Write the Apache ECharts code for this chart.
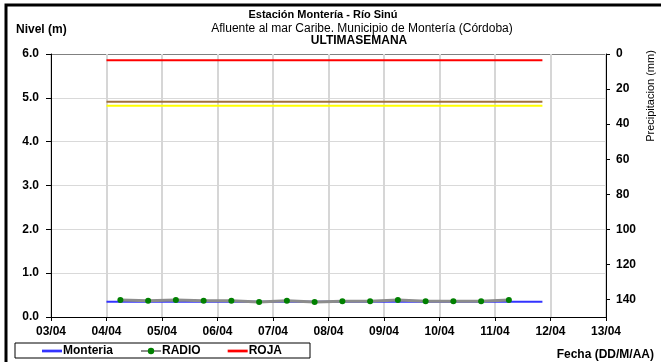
<!DOCTYPE html>
<html>
<head>
<meta charset="utf-8">
<script src="https://cdn.jsdelivr.net/npm/echarts@6/dist/echarts.min.js"></script>
<style>
html,body{margin:0;padding:0;background:#fff;}
#chart{width:661px;height:362px;}
</style>
</head>
<body>
<div id="chart"></div>
<script>
// ---- data ----
const YEAR = 2024;
const xTickRange = ['03/04 00:00', '13/04 00:00'];
const monteriaTimes = ['04/04 00:00', '11/04 20:30'];
const monteriaValues = [0.35, 0.35];
const radioTimes = ['04/04 06:00','04/04 18:00','05/04 06:00','05/04 18:00','06/04 06:00','06/04 18:00','07/04 06:00','07/04 18:00','08/04 06:00','08/04 18:00','09/04 06:00','09/04 18:00','10/04 06:00','10/04 18:00','11/04 06:00'];
const radioValues = [0.39,0.37,0.39,0.37,0.37,0.34,0.37,0.34,0.36,0.36,0.39,0.36,0.36,0.36,0.39];
const thresholdTimes = ['04/04 00:00', '11/04 20:30'];
const rojaValues = [5.86, 5.86];
const naranjaValues = [4.91, 4.91];
const amarillaValues = [4.82, 4.82];
const levelTicks = { min: 0, max: 6, interval: 1 };
const rainTicks = { min: 0, max: 150, interval: 20 };

function toMs(s) {
  const [d, t] = s.split(' ');
  const [dd, mm] = d.split('/').map(Number);
  const [hh, mi] = t.split(':').map(Number);
  return Date.UTC(YEAR, mm - 1, dd, hh, mi);
}
function pair(times, vals) { return times.map((t, i) => [toMs(t), vals[i]]); }
function pad(n) { return (n < 10 ? '0' : '') + n; }

const FONT = 'Arial, "Liberation Sans", sans-serif';
const LINE_ICON = 'path://M0,0L22,0L22,3L0,3Z';
const chart = echarts.init(document.getElementById('chart'));
chart.setOption({
  animation: false,
  backgroundColor: '#fff',
  textStyle: { fontFamily: FONT },
  grid: { left: 51, right: 55, top: 54, bottom: 45, containLabel: false },
  title: [
    { text: 'Estación Montería - Río Sinú', left: 318, top: 4, textAlign: 'center',
      textStyle: { fontSize: 11, fontWeight: 'bold', color: '#000', fontFamily: FONT } },
    { text: 'Afluente al mar Caribe. Municipio de Montería (Córdoba)', left: 357, top: 18, textAlign: 'center',
      textStyle: { fontSize: 12, fontWeight: 'normal', color: '#000', fontFamily: FONT } },
    { text: 'ULTIMASEMANA', left: 354, top: 30, textAlign: 'center',
      textStyle: { fontSize: 12, fontWeight: 'bold', color: '#000', fontFamily: FONT } },
    { text: 'Nivel (m)', left: 11, top: 19,
      textStyle: { fontSize: 12, fontWeight: 'bold', color: '#000', fontFamily: FONT } },
    { text: 'Fecha (DD/M/AA)', right: 2, top: 344,
      textStyle: { fontSize: 12, fontWeight: 'bold', color: '#000', fontFamily: FONT } }
  ],
  graphic: [
    { type: 'rect', shape: { x: 6, y: 5, width: 700, height: 400 }, style: { fill: null, stroke: '#000', lineWidth: 3 }, silent: true },
    { type: 'text', x: 651, y: 96, rotation: Math.PI / 2,
      style: { text: 'Precipitacion (mm)', font: '11px ' + FONT, fill: '#000', textAlign: 'center', textVerticalAlign: 'middle' } }
  ],
  legend: {
    left: 15, top: 343, orient: 'horizontal',
    data: [{ name: 'Monteria', icon: LINE_ICON }, { name: 'RADIO' }, { name: 'ROJA', icon: LINE_ICON }],
    borderColor: '#000', borderWidth: 1, backgroundColor: '#fff',
    padding: [2, 28, 1, 27], itemGap: 27, itemWidth: 20, itemHeight: 8,
    textStyle: { fontSize: 12, fontWeight: 'bold', color: '#000', fontFamily: FONT, padding: [0, 0, 0, -4] }
  },
  xAxis: {
    type: 'value',
    min: toMs(xTickRange[0]), max: toMs(xTickRange[1]), interval: 86400000,
    axisLine: { lineStyle: { color: '#000', width: 1 } },
    axisTick: { show: true, length: 4, lineStyle: { color: '#000' } },
    axisLabel: {
      margin: 9, fontSize: 12, fontWeight: 'bold', color: '#000', fontFamily: FONT,
      formatter: v => { const d = new Date(v); return pad(d.getUTCDate()) + '/' + pad(d.getUTCMonth() + 1); }
    },
    splitLine: { show: true, lineStyle: { color: '#d6d6d6', width: 2 } }
  },
  yAxis: [
    {
      type: 'value', min: levelTicks.min, max: levelTicks.max, interval: levelTicks.interval,
      axisLine: { show: true, lineStyle: { color: '#000' } },
      axisTick: { show: true, length: 5, lineStyle: { color: '#000' } },
      axisLabel: { margin: 12, fontSize: 12, fontWeight: 'bold', color: '#000', fontFamily: FONT, formatter: v => v.toFixed(1) },
      splitLine: { show: true, lineStyle: { color: ['#d9d9d9','#d9d9d9','#d9d9d9','#d9d9d9','#d9d9d9','#d9d9d9','#808080'], width: 1 } }
    },
    {
      type: 'value', position: 'right', inverse: true,
      min: rainTicks.min, max: rainTicks.max, interval: rainTicks.interval,
      axisLine: { show: true, lineStyle: { color: '#000' } },
      axisTick: { show: true, length: 4, lineStyle: { color: '#000' } },
      axisLabel: { margin: 10, fontSize: 12, fontWeight: 'bold', color: '#000', fontFamily: FONT, showMaxLabel: false },
      splitLine: { show: false }
    }
  ],
  series: [
    { name: 'ROJA', type: 'line', data: pair(thresholdTimes, rojaValues), symbol: 'none',
      lineStyle: { color: '#ff0000', width: 2 }, itemStyle: { color: '#ff0000' } },
    { name: 'NARANJA', type: 'line', data: pair(thresholdTimes, naranjaValues), symbol: 'none',
      lineStyle: { color: '#a0703c', width: 2 }, itemStyle: { color: '#a0703c' } },
    { name: 'AMARILLA', type: 'line', data: pair(thresholdTimes, amarillaValues), symbol: 'none',
      lineStyle: { color: '#ffff00', width: 2 }, itemStyle: { color: '#ffff00' } },
    { name: 'Monteria', type: 'line', data: pair(monteriaTimes, monteriaValues), symbol: 'none',
      lineStyle: { color: '#3333ff', width: 2 }, itemStyle: { color: '#3333ff' } },
    { name: 'RADIO', type: 'line', data: pair(radioTimes, radioValues), symbol: 'circle', symbolSize: 6,
      lineStyle: { color: '#8c8c8c', width: 3 }, itemStyle: { color: '#008000', borderWidth: 0 } }
  ]
});
</script>
</body>
</html>
